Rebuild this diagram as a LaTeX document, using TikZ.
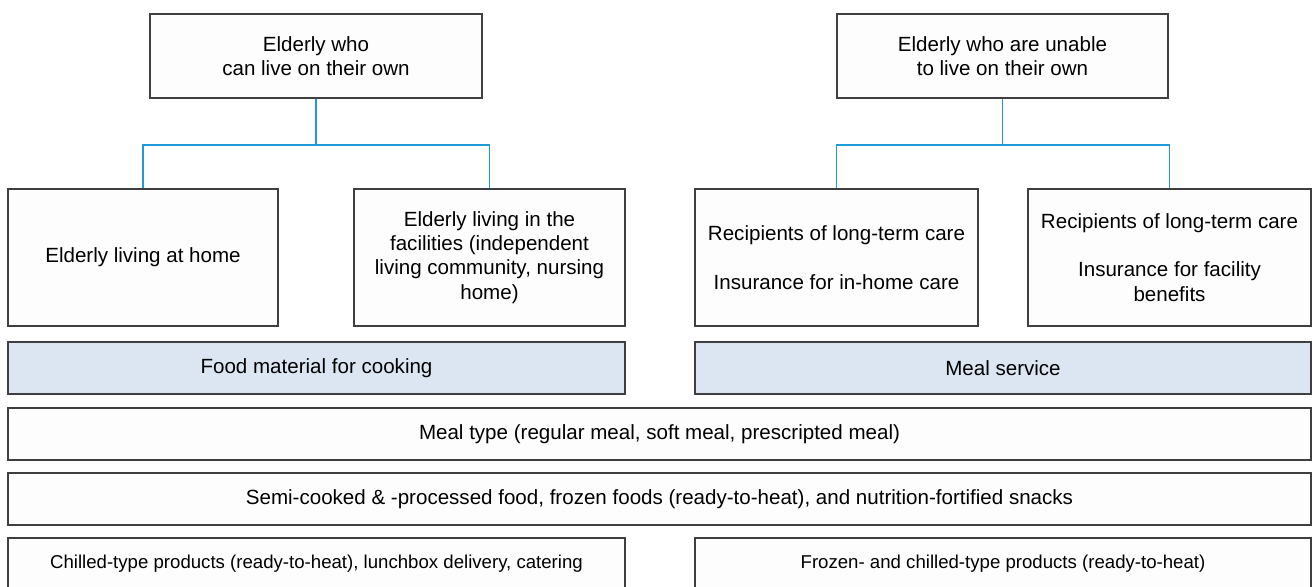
\documentclass[tikz,border=0pt]{standalone}
\usepackage{fontspec}
\setmainfont{Liberation Sans}
\usetikzlibrary{calc}
\definecolor{boxline}{HTML}{3F3F3F}
\definecolor{boxfill}{HTML}{FDFDFD}
\definecolor{headfill}{HTML}{DCE6F2}
\definecolor{linkblue}{HTML}{1F9AD6}

\begin{document}
\begin{tikzpicture}[
    x=0.02cm, y=-0.02cm,
    font=\fontsize{11.7}{13.8}\selectfont,
    box/.style={draw=boxline, fill=boxfill, line width=0.6pt, align=center,
      inner sep=2pt, minimum height=#1*0.02cm},
    box/.default=52,
    header/.style={box, fill=headfill},
    small/.style={font=\fontsize{10.6}{12.7}\selectfont},
    link/.style={draw=linkblue, line width=0.6pt}
  ]
    \useasboundingbox (0,0) rectangle (1315,586);

    % groups of elderly
    \node[box=84, minimum width=332*0.02cm] (own) at (316,56) {Elderly who\\can live on their own};
    \node[box=84, minimum width=331*0.02cm] (unable) at (1002.5,56) {Elderly who are unable\\to live on their own};

    \node[box=137, minimum width=270*0.02cm] (home) at (143,257.5) {Elderly living at home};
    \node[box=137, minimum width=271*0.02cm] (facility) at (489.5,257.5) {Elderly living in the\\facilities (independent\\living community, nursing\\home)};
    \node[box=137, minimum width=283*0.02cm] (inhome) at (836.5,257.5) {Recipients of long-term care\\[\baselineskip]Insurance for in-home care};
    \node[box=137, minimum width=283*0.02cm] (facben) at (1169.5,257.5) {Recipients of long-term care\\[\baselineskip]Insurance for facility\\benefits};

    % products
    \node[header, minimum width=617*0.02cm] (cooking) at (316.5,368) {Food material for cooking};
    \node[header, minimum width=616*0.02cm] (service) at (1003,368) {Meal service};
    \node[box, minimum width=1303*0.02cm] (mealtype) at (659.5,434) {Meal type (regular meal, soft meal, prescripted meal)};
    \node[box, minimum width=1303*0.02cm] (semicooked) at (659.5,499) {Semi-cooked \& -processed food, frozen foods (ready-to-heat), and nutrition-fortified snacks};
    \node[box, small, minimum width=617*0.02cm] (chilled) at (316.5,564) {Chilled-type products (ready-to-heat), lunchbox delivery, catering};
    \node[box, small, minimum width=616*0.02cm] (frozen) at (1003,564) {Frozen- and chilled-type products (ready-to-heat)};

    % tree links
    \coordinate (ownsplit) at (316,145);
    \coordinate (unablesplit) at (1002.5,145);
    \draw[link] (own.south) -- (ownsplit);
    \draw[link] (ownsplit) -| (home.north);
    \draw[link] (ownsplit) -| (facility.north);
    \draw[link] (unable.south) -- (unablesplit);
    \draw[link] (unablesplit) -| (inhome.north);
    \draw[link] (unablesplit) -| (facben.north);
\end{tikzpicture}
\end{document}
